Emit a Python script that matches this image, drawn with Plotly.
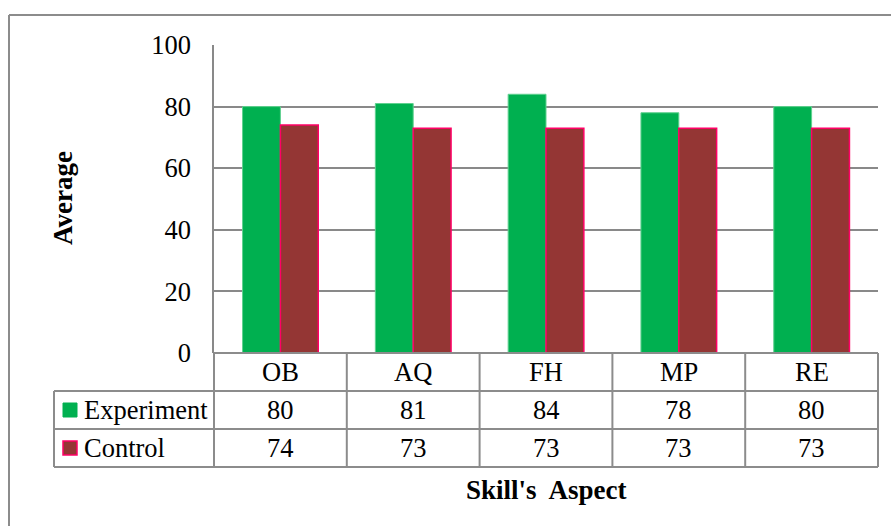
import plotly.graph_objects as go

categories = ["OB", "AQ", "FH", "MP", "RE"]
experiment = [80, 81, 84, 78, 80]
control = [74, 73, 73, 73, 73]
series_names = ["Experiment", "Control"]
y_ticks = [0, 20, 40, 60, 80, 100]

W, H = 891, 526
L, R, T, B = 214, 878, 45, 353
PW, PH = R - L, B - T

def px(x):
    return (x - L) / PW

def py(y):
    return (B - y) / PH

FONT = "Liberation Serif, Times New Roman, serif"
GREEN = "#00B050"
RED = "#943634"
RED_EDGE = "#FF0066"
GRID = "#898989"
FS = 26.5

fig = go.Figure()
fig.add_trace(go.Bar(x=categories, y=experiment, name=series_names[0],
                     marker=dict(color=GREEN, line=dict(color="#5fd18f", width=1))))
fig.add_trace(go.Bar(x=categories, y=control, name=series_names[1],
                     marker=dict(color=RED, line=dict(color=RED_EDGE, width=1.5))))

shapes = []
# outer chart border (top and left visible)
shapes.append(dict(type="line", xref="paper", yref="paper", x0=px(9), x1=px(895), y0=py(15), y1=py(15),
                   line=dict(color="#8c8c8c", width=2)))
shapes.append(dict(type="line", xref="paper", yref="paper", x0=px(9), x1=px(9), y0=py(15), y1=py(530),
                   line=dict(color="#8c8c8c", width=2)))

# data table
tline = dict(color="#8c8c8c", width=2)
rows_y = [353, 391, 429, 467]
col_x = [L + i * PW / len(categories) for i in range(len(categories) + 1)]
shapes.append(dict(type="line", xref="paper", yref="paper", x0=px(L), x1=px(R), y0=py(353), y1=py(353), line=tline))
for yy in rows_y[1:]:
    shapes.append(dict(type="line", xref="paper", yref="paper", x0=px(54), x1=px(R), y0=py(yy), y1=py(yy), line=tline))
for xx in col_x:
    shapes.append(dict(type="line", xref="paper", yref="paper", x0=px(xx), x1=px(xx), y0=py(353), y1=py(467), line=tline))
shapes.append(dict(type="line", xref="paper", yref="paper", x0=px(54), x1=px(54), y0=py(391), y1=py(467), line=tline))

# legend keys
shapes.append(dict(type="rect", xref="paper", yref="paper", x0=px(63), x1=px(77), y0=py(417), y1=py(403),
                   fillcolor=GREEN, line=dict(color=GREEN, width=1)))
shapes.append(dict(type="rect", xref="paper", yref="paper", x0=px(63), x1=px(77), y0=py(455), y1=py(441),
                   fillcolor=RED, line=dict(color=RED_EDGE, width=1.5)))

annotations = []
row_centers = [372, 410, 448]
for i, cat in enumerate(categories):
    cx = (col_x[i] + col_x[i + 1]) / 2
    for txt, yc in zip([cat, str(experiment[i]), str(control[i])], row_centers):
        annotations.append(dict(text=txt, xref="paper", yref="paper", x=px(cx), y=py(yc),
                                xanchor="center", yanchor="middle", showarrow=False,
                                font=dict(family=FONT, size=FS, color="black")))
for name, yc in zip(series_names, row_centers[1:]):
    annotations.append(dict(text=name, xref="paper", yref="paper", x=px(82), y=py(yc),
                            xanchor="left", yanchor="middle", showarrow=False,
                            font=dict(family=FONT, size=FS, color="black")))
annotations.append(dict(text="<b>Average</b>", xref="paper", yref="paper", x=px(63), y=py(198),
                        xanchor="center", yanchor="middle", textangle=-90, showarrow=False,
                        font=dict(family=FONT, size=27, color="black")))
annotations.append(dict(text="<b>Skill's  Aspect</b>", xref="paper", yref="paper", x=px(546), y=py(490),
                        xanchor="center", yanchor="middle", showarrow=False,
                        font=dict(family=FONT, size=27, color="black")))

fig.update_layout(
    width=W, height=H,
    margin=dict(l=L, r=W - R, t=T, b=H - B, pad=0),
    paper_bgcolor="white", plot_bgcolor="white",
    barmode="group", bargap=0.43, bargroupgap=0,
    showlegend=False,
    shapes=shapes, annotations=annotations,
    font=dict(family=FONT, size=FS, color="black"),
)
fig.update_xaxes(range=[-0.5, 4.5], showticklabels=False, showgrid=False, showline=False,
                 zeroline=False, ticks="")
fig.update_yaxes(range=[0, 100], tickvals=y_ticks, showgrid=True, gridcolor=GRID, gridwidth=1.5,
                 showline=True, linecolor=GRID, linewidth=1.5, zeroline=False,
                 ticks="outside", ticklen=16, tickcolor="rgba(0,0,0,0)",
                 tickfont=dict(family=FONT, size=FS, color="black"))

fig.write_html("out.html", config={"displayModeBar": False},
               post_script="document.body.style.margin='0';")
